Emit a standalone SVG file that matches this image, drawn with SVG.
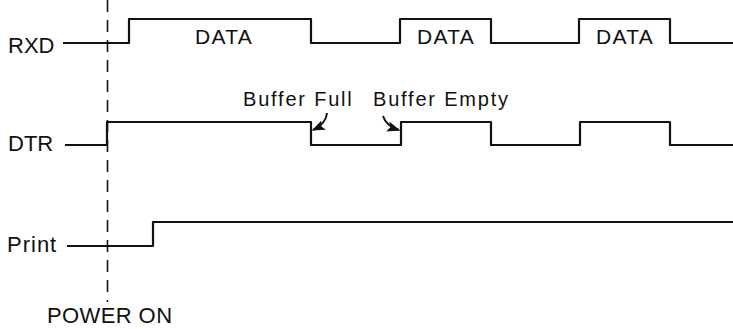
<svg xmlns="http://www.w3.org/2000/svg" width="733" height="329" viewBox="0 0 733 329">
<style>
.sig{fill:none;stroke:#111;stroke-width:2.2;stroke-linejoin:round}
.lbl{font-family:"Liberation Sans",Arial,sans-serif;font-size:22px;fill:#111}
.data{font-family:"Liberation Sans",Arial,sans-serif;font-size:21px;fill:#111;letter-spacing:1.3px;text-anchor:middle}
.note{font-family:"Liberation Sans",Arial,sans-serif;font-size:20px;fill:#111;letter-spacing:1.8px}
.arr{fill:none;stroke:#111;stroke-width:2}
</style>
<defs>
<marker id="ah" viewBox="0 0 10 10" refX="9" refY="5" markerWidth="6.5" markerHeight="6.5" orient="auto" markerUnits="strokeWidth">
<path d="M0,1 L10,5 L0,9 L2,5 Z" fill="#111"/>
</marker>
</defs>
<rect width="733" height="329" fill="#fff"/>
<g id="powerline">
<line x1="107.5" y1="0" x2="107.5" y2="302" stroke="#111" stroke-width="1.6" stroke-dasharray="12 8"/>
<text class="lbl" x="47" y="323" font-size="21" letter-spacing="0.4">POWER ON</text>
</g>
<g id="rxd">
<text class="lbl" x="8" y="53">RXD</text>
<path class="sig" d="M63,43 H129 V19 H311 V43 H400 V19 H491 V43 H579 V19 H670 V43 H733"/>
<text class="data" x="224" y="44">DATA</text>
<text class="data" x="446" y="44">DATA</text>
<text class="data" x="625" y="44">DATA</text>
</g>
<g id="dtr">
<text class="lbl" x="8" y="151">DTR</text>
<path class="sig" d="M65,145 H107 V122 H311 V145 H401 V122 H491 V145 H580 V122 H670 V145 H733"/>
</g>
<g id="print">
<text class="lbl" x="7" y="252" letter-spacing="1">Print</text>
<path class="sig" d="M67,246 H153 V222 H733"/>
</g>
<g id="notes">
<text class="note" x="243" y="106">Buffer Full</text>
<text class="note" x="373" y="106">Buffer Empty</text>
</g>
<g id="connectors">
<path class="arr" d="M327,113 Q326,124 313,130" marker-end="url(#ah)"/>
<path class="arr" d="M383,116 Q386,126 399,130" marker-end="url(#ah)"/>
</g>
</svg>
